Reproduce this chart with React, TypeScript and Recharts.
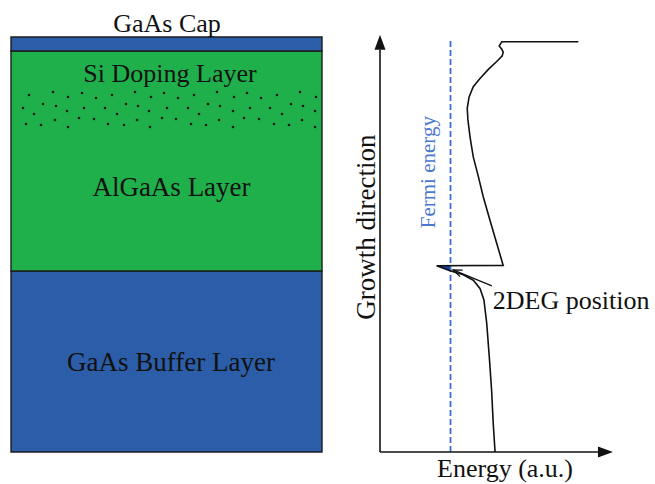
import {
  Area,
  Bar,
  BarChart,
  ComposedChart,
  Line,
  ReferenceDot,
  ReferenceLine,
  Scatter,
  XAxis,
  YAxis,
} from "recharts";

const W = 655;
const H = 484;
const SERIF = "Liberation Serif, Times New Roman, Times, serif";

// heterostructure stack, bottom to top (thickness, a.u.)
const layerKeys = ["buffer", "algaas", "cap"];
const layerThickness = [181, 220, 14];
const layerColors = ["#2c5da9", "#20b04b", "#2c5da9"];

// Si dopants: [lateral position, height above substrate]
const dopants: [number, number][] = [
  [18, 357], [42, 360], [57, 355], [71, 359], [85, 354], [101, 357], [124, 360], [140, 355], [153, 359],
  [12, 344], [32, 348], [45, 346], [23, 338], [56, 341], [73, 344], [94, 344], [115, 348], [127, 346],
  [106, 338], [138, 341], [156, 344],
  [15, 328], [30, 327], [44, 332], [57, 325], [68, 334], [83, 333], [97, 328], [113, 327], [126, 332],
  [139, 325], [151, 334],
  [167, 354], [183, 357], [206, 360], [223, 355], [236, 359], [250, 354], [266, 357], [289, 360], [305, 355],
  [177, 344], [197, 348], [209, 346], [188, 338], [222, 341], [239, 344], [259, 344], [280, 348], [292, 346],
  [271, 338], [304, 341],
  [165, 333], [180, 328], [195, 327], [208, 332], [222, 325], [233, 334], [248, 333], [263, 328], [278, 327],
  [291, 332], [304, 325],
];

// conduction band edge: [energy, growth position]
const conductionBand: [number, number][] = [
  [85.5, 99.8], [52.5, 99.8], [51.4, 98.8], [52.5, 98.0], [53.1, 97.3], [52.7, 96.4], [50.3, 95.0],
  [46.7, 93.1], [43.1, 90.9], [40.2, 88.9], [38.4, 86.4], [37.6, 83.6], [37.9, 80.8], [38.8, 76.7],
  [40.2, 71.8], [42.4, 67.0], [44.5, 62.1], [47.4, 56.4], [50.3, 50.8], [53.1, 45.4],
  [24.4, 45.3],
  [30.2, 44.1], [35.9, 43.1], [40.2, 41.8], [43.1, 39.8], [44.8, 37.0], [46.0, 31.3], [47.1, 23.2],
  [48.1, 15.1], [48.8, 7.0], [49.6, 0],
];

// 2DEG well (below Fermi level)
const wellEnergy = [24.4, 30.4];
const wellLow = [45.3, 44.1];
const wellHigh = [45.3, 45.4];

const fermiEnergy = 30.4;

const stackData = [
  layerKeys.reduce<Record<string, number | string>>(
    (acc, k, i) => ({ ...acc, [k]: layerThickness[i] }),
    { name: "stack" }
  ),
];
const dopantData = dopants.map(([x, y]) => ({ x, y }));
const bandData = conductionBand.map(([e, g]) => ({ e, g }));
const wellData = wellEnergy.map((e, i) => ({ e, g: [wellLow[i], wellHigh[i]] }));

const arrow = (filled: boolean, len: number, half: number) => (p: any) => {
  const { x1, y1, x2, y2, stroke, strokeWidth } = p;
  const a = Math.atan2(y2 - y1, x2 - x1);
  const c = Math.cos(a);
  const s = Math.sin(a);
  const bx = x2 - len * c;
  const by = y2 - len * s;
  const l = `${bx - half * s},${by + half * c}`;
  const r = `${bx + half * s},${by - half * c}`;
  return (
    <g>
      <line
        x1={x1}
        y1={y1}
        x2={filled ? bx : x2}
        y2={filled ? by : y2}
        stroke={stroke}
        strokeWidth={strokeWidth}
      />
      {filled ? (
        <polygon points={`${x2},${y2} ${l} ${r}`} fill={stroke} />
      ) : (
        <polyline points={`${l} ${x2},${y2} ${r}`} fill="none" stroke={stroke} strokeWidth={strokeWidth} />
      )}
    </g>
  );
};

// text anchored at a data point; y is the centre of the capital letters
const tag = (
  key: string,
  x: number,
  y: number,
  value: string,
  opts: { size?: number; angle?: number; fill?: string; anchor?: "start" | "middle" | "end" } = {}
) => (
  <ReferenceDot
    key={key}
    x={x}
    y={y}
    r={1}
    ifOverflow="visible"
    shape={(p: any) => (
      <text
        x={p.cx}
        y={p.cy}
        dy="0.33em"
        textAnchor={opts.anchor ?? "middle"}
        transform={opts.angle ? `rotate(${opts.angle}, ${p.cx}, ${p.cy})` : undefined}
        fill={opts.fill ?? "#111"}
        fontSize={opts.size ?? 26}
        fontFamily={SERIF}
      >
        {value}
      </text>
    )}
  />
);

const leftMargin = { top: 37, left: 11, right: W - 322, bottom: H - 452 };
const rightMargin = { top: 41, left: 380, right: W - 612, bottom: H - 452 };

const layerBox: React.CSSProperties = { position: "absolute", left: 0, top: 0 };

export default function App() {
  return (
    <div style={{ position: "absolute", left: 0, top: 0, width: W, height: H, background: "#fff" }}>
      <div style={layerBox}>
        <BarChart width={W} height={H} data={stackData} margin={leftMargin} barCategoryGap={0}>
          <XAxis dataKey="name" type="category" hide />
          <YAxis type="number" domain={[0, 415]} hide />
          {layerKeys.map((k, i) => (
            <Bar
              key={k}
              dataKey={k}
              stackId="s"
              fill={layerColors[i]}
              stroke="#1c1c1c"
              strokeWidth={1.4}
              isAnimationActive={false}
            />
          ))}
        </BarChart>
      </div>
      <div style={layerBox}>
        <ComposedChart width={W} height={H} margin={leftMargin}>
          <XAxis dataKey="x" type="number" domain={[0, 311]} hide />
          <YAxis dataKey="y" type="number" domain={[0, 415]} hide />
          <Scatter
            data={dopantData}
            isAnimationActive={false}
            shape={(p: any) => <circle cx={p.cx} cy={p.cy} r={1.3} fill="#0d1a10" />}
          />
          {tag("cap", 156, 429, "GaAs Cap")}
          {tag("si", 159, 378.7, "Si Doping Layer")}
          {tag("algaas", 160.5, 264.5, "AlGaAs Layer", { size: 27 })}
          {tag("buffer", 160, 90, "GaAs Buffer Layer", { size: 27 })}
        </ComposedChart>
      </div>
      <div style={layerBox}>
        <ComposedChart width={W} height={H} margin={rightMargin}>
          <XAxis dataKey="e" type="number" domain={[0, 100]} allowDataOverflow hide />
          <YAxis type="number" domain={[0, 100]} allowDataOverflow hide />
          <ReferenceLine
            x={fermiEnergy}
            stroke="#3a6fd4"
            strokeWidth={1.8}
            strokeDasharray="6 3"
          />
          <Area
            data={wellData}
            dataKey="g"
            type="linear"
            fill="#1d3f9e"
            fillOpacity={1}
            stroke="none"
            isAnimationActive={false}
          />
          <Line
            data={bandData}
            dataKey="g"
            type="linear"
            stroke="#111"
            strokeWidth={1.6}
            dot={false}
            isAnimationActive={false}
          />
          <ReferenceLine
            segment={[{ x: 0, y: 0 }, { x: 0, y: 101.5 }]}
            ifOverflow="visible"
            stroke="#111"
            strokeWidth={1.6}
            shape={arrow(true, 15, 5.5)}
          />
          <ReferenceLine
            segment={[{ x: 0, y: 0 }, { x: 100.4, y: 0 }]}
            ifOverflow="visible"
            stroke="#111"
            strokeWidth={1.6}
            shape={arrow(true, 15, 5.5)}
          />
          <ReferenceLine
            segment={[{ x: 48.2, y: 40.4 }, { x: 31.5, y: 44.3 }]}
            ifOverflow="visible"
            stroke="#111"
            strokeWidth={1.3}
            shape={arrow(false, 9, 3.5)}
          />
          {tag("growth", -6, 54.7, "Growth direction", { size: 27, angle: -90 })}
          {tag("fermi", 20.9, 68.1, "Fermi energy", { size: 21, angle: -90, fill: "#4a78d0" })}
          {tag("energy", 53.9, -3.9, "Energy (a.u.)")}
          {tag("2deg", 48.6, 36.9, "2DEG position", { anchor: "start" })}
        </ComposedChart>
      </div>
    </div>
  );
}
